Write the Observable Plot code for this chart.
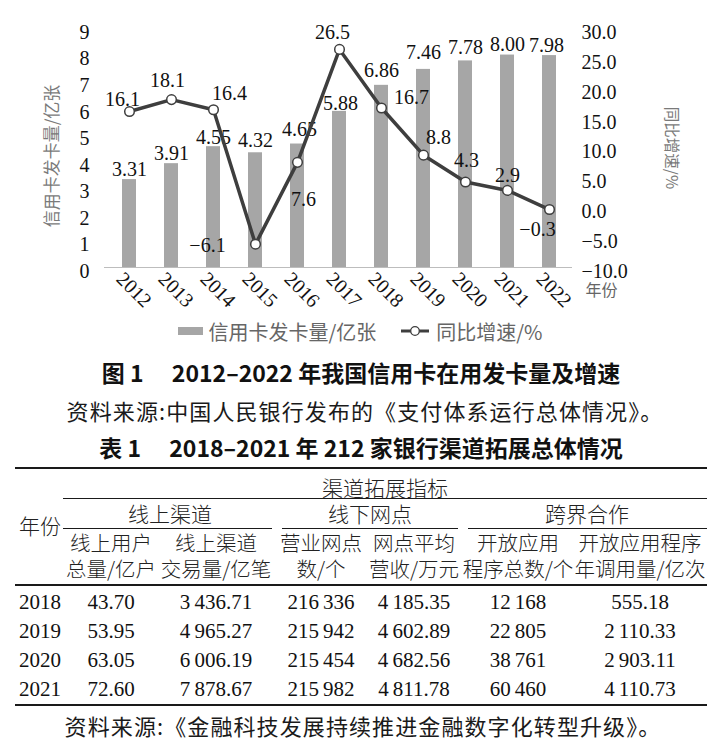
<!DOCTYPE html>
<html><head><meta charset="utf-8">
<script src="https://cdn.jsdelivr.net/npm/d3@7"></script>
<script src="https://cdn.jsdelivr.net/npm/@observablehq/plot@0.6"></script>
<style>
html,body{margin:0;padding:0;background:#fff;}
#page{position:relative;width:721px;height:747px;overflow:hidden;background:#fff;}
#chart{position:absolute;left:0;top:0;}
.t{position:absolute;white-space:nowrap;text-align:center;transform:translateX(-50%);}
.cjk{font-family:"Noto Sans CJK SC",sans-serif;}
.num{font-family:"Liberation Serif","Times New Roman",serif;}
.rule{position:absolute;background:#1a1a1a;}
#legend{position:absolute;left:0;top:318px;width:721px;height:26px;display:flex;justify-content:center;align-items:center;font-family:"Noto Sans CJK SC",sans-serif;font-size:20px;color:#666;}
#legend .item{display:flex;align-items:center;}
</style></head><body><div id="page"><div id="chart"></div></div>
<script>
// ---- chart data ----
const years = ["2012","2013","2014","2015","2016","2017","2018","2019","2020","2021","2022"];
const cardsIssued = [3.31, 3.91, 4.55, 4.32, 4.65, 5.88, 6.86, 7.46, 7.78, 8.00, 7.98];
const yoyGrowth = [16.1, 18.1, 16.4, -6.1, 7.6, 26.5, 16.7, 8.8, 4.3, 2.9, -0.3];
const leftTicks = [0, 1, 2, 3, 4, 5, 6, 7, 8, 9];
const rightTicks = [-10, -5, 0, 5, 10, 15, 20, 25, 30];

// ---- label placement (screen offsets) ----
const barLabelDx = [0, 0, 0, 0, 2, 1, 0, 0, 0, 0, -3];
const barLabelDy = [-10, -10, -9, -12, -14, -8, -15, -17, -13, -10, -10];
const pctLabelDx = [-7, -4, 16, -48, 6, -7, 30, 15, 1, 0, -12];
const pctLabelDy = [-12, -19, -16, 1, 37, -17, -10, -18, -21, -15, 20];

// ---- table data ----
const tableYears = ["2018", "2019", "2020", "2021"];
const onlineUsers = [43.70, 53.95, 63.05, 72.60];
const onlineTrades = [3436.71, 4965.27, 6006.19, 7878.67];
const branchCount = [216336, 215942, 215454, 215982];
const branchRevenue = [4185.35, 4602.89, 4682.56, 4811.78];
const openApps = [12168, 22805, 38761, 60460];
const openAppCalls = [555.18, 2110.33, 2903.11, 4110.73];
const groupHeaders = ["线上渠道", "线下网点", "跨界合作"];
const subHeaders = [["线上用户","总量/亿户"],["线上渠道","交易量/亿笔"],["营业网点","数/个"],["网点平均","营收/万元"],["开放应用","程序总数/个"],["开放应用程序","年调用量/亿次"]];

const serif = "Liberation Serif";
const cjk = "Noto Sans CJK SC";
const minus = s => s.replace("-", "\u2212");
const toLeft = p => (p + 10) * 9 / 40;
const fromLeft = v => v * 40 / 9 - 10;
const data = years.map((year, i) => ({year, cards: cardsIssued[i], pct: yoyGrowth[i]}));
const lineColor = "#3e3e3e";

const marks = [
  Plot.barY(data, {x: "year", y: "cards", fill: "#a6a6a6"}),
  Plot.ruleY([0], {stroke: "#bdbdbd", strokeWidth: 1.2}),
  Plot.axisY(leftTicks, {anchor: "left", tickSize: 0, tickPadding: 15, dy: 4, fontSize: 20, fontFamily: serif, fill: "#111", label: null}),
  Plot.axisY(rightTicks.map(toLeft), {anchor: "right", tickSize: 0, tickPadding: 9, dy: 4, fontSize: 20, fontFamily: serif, fill: "#111", label: null,
    tickFormat: v => minus(Math.round(fromLeft(v)).toFixed(1))}),
  Plot.text(years, {x: d => d, text: d => d, frameAnchor: "bottom", textAnchor: "middle", dy: 27, rotate: 45, fontSize: 20, fontFamily: serif, fill: "#111"}),
  ...data.map((d, i) => Plot.text([d], {x: "year", y: "cards", text: d => d.cards.toFixed(2), dx: barLabelDx[i], dy: barLabelDy[i], fontSize: 20, fontFamily: serif, fill: "#111"})),
  Plot.line(data, {x: "year", y: d => toLeft(d.pct), stroke: lineColor, strokeWidth: 3.5}),
  Plot.dot(data, {x: "year", y: d => toLeft(d.pct), r: 4.8, fill: "white", stroke: lineColor, strokeWidth: 1.5}),
  ...data.map((d, i) => Plot.text([d], {x: "year", y: d => toLeft(d.pct), text: d => minus(d.pct.toFixed(1)), dx: pctLabelDx[i], dy: pctLabelDy[i], fontSize: 20, fontFamily: serif, fill: "#111"})),
  Plot.text(["信用卡发卡量/亿张"], {text: d => d, frameAnchor: "left", textAnchor: "middle", rotate: -90, dx: -52, dy: 8, fontSize: 17, fontFamily: cjk, fill: "#7a7a7a"}),
  Plot.text(["同比增速/%"], {text: d => d, frameAnchor: "right", textAnchor: "middle", rotate: 90, dx: 98, dy: 0, fontSize: 15.5, fontFamily: cjk, fill: "#7a7a7a"}),
  Plot.text(["年份"], {text: d => d, frameAnchor: "bottom-right", textAnchor: "middle", dx: 29, dy: 28, fontSize: 16, fontFamily: cjk, fill: "#666"})
];

const chart = Plot.plot({
  width: 721, height: 312,
  marginLeft: 104, marginRight: 149, marginTop: 28, marginBottom: 45,
  x: {type: "band", domain: years, paddingInner: 0.67, paddingOuter: 0.31, align: 0.53, axis: null},
  y: {domain: [0, 9]},
  style: {background: "transparent", overflow: "visible"},
  marks
});
document.getElementById("chart").appendChild(chart);

const page = document.getElementById("page");
function place(text, cx, cy, cls, size, opts = {}) {
  const d = document.createElement("div");
  d.className = "t " + cls;
  d.textContent = text;
  const lh = Math.round(size * 1.1);
  d.style.left = cx + "px";
  d.style.top = (cy - lh / 2) + "px";
  d.style.lineHeight = lh + "px";
  d.style.fontSize = size + "px";
  d.style.color = opts.color || "#111";
  if (opts.weight) d.style.fontWeight = opts.weight;
  if (opts.ls) d.style.letterSpacing = opts.ls;
  page.appendChild(d);
}
function rule(x1, x2, y, h) {
  const d = document.createElement("div");
  d.className = "rule";
  d.style.left = x1 + "px"; d.style.width = (x2 - x1) + "px";
  d.style.top = (y - h / 2) + "px"; d.style.height = h + "px";
  page.appendChild(d);
}

// legend
const legend = document.createElement("div");
legend.id = "legend";
legend.innerHTML = `<div class="item"><span style="display:inline-block;width:25px;height:8px;background:#a6a6a6;margin-right:5px"></span><span>信用卡发卡量/亿张</span></div>
<div class="item" style="margin-left:25px"><svg width="28" height="14" style="margin-right:7px"><line x1="0" y1="7" x2="28" y2="7" stroke="${lineColor}" stroke-width="3"/><circle cx="14" cy="7" r="4.3" fill="white" stroke="${lineColor}" stroke-width="1.3"/></svg><span>同比增速/%</span></div>`;
page.appendChild(legend);

// captions
place("图 1\u2003 2012–2022 年我国信用卡在用发卡量及增速", 361, 372, "cjk", 23, {weight: 700});
place("资料来源:中国人民银行发布的《支付体系运行总体情况》。", 365, 410, "cjk", 22, {color: "#1a1a1a", ls: "1.1px"});
place("表 1\u2003 2018–2021 年 212 家银行渠道拓展总体情况", 361, 447, "cjk", 23, {weight: 700});

// table
const colX = [40, 111, 216, 321, 414, 518, 640];
const groupX = [170, 370, 587];
const rowY = [602, 631, 660, 689];
rule(15, 707, 468, 2.5);
rule(63, 707, 498, 1);
rule(63, 272, 528, 1); rule(282, 458, 528, 1); rule(468, 707, 528, 1);
rule(15, 707, 585, 1.5);
rule(15, 707, 705, 2.5);
const hdr = {color: "#222", weight: 300};
place("年份", 40, 525, "cjk", 21, hdr);
place("渠道拓展指标", 385, 487, "cjk", 21, hdr);
groupHeaders.forEach((g, i) => place(g, groupX[i], 513, "cjk", 21, hdr));
subHeaders.forEach((s, i) => { place(s[0], colX[i + 1], 542, "cjk", 20.5, hdr); place(s[1], colX[i + 1], 568, "cjk", 20.5, hdr); });
const f2 = v => d3.format(",.2f")(v).replace(/,/g, "\u2009");
const f0 = v => d3.format(",d")(v).replace(/,/g, "\u2009");
const cols = [onlineUsers.map(f2), onlineTrades.map(f2), branchCount.map(f0), branchRevenue.map(f2), openApps.map(f0), openAppCalls.map(f2)];
tableYears.forEach((y, r) => {
  place(y, colX[0], rowY[r], "num", 21);
  cols.forEach((c, j) => place(c[r], colX[j + 1], rowY[r], "num", 21));
});
place("资料来源:《金融科技发展持续推进金融数字化转型升级》。", 363, 725, "cjk", 22, {color: "#1a1a1a", ls: "1.1px"});
</script></body></html>
